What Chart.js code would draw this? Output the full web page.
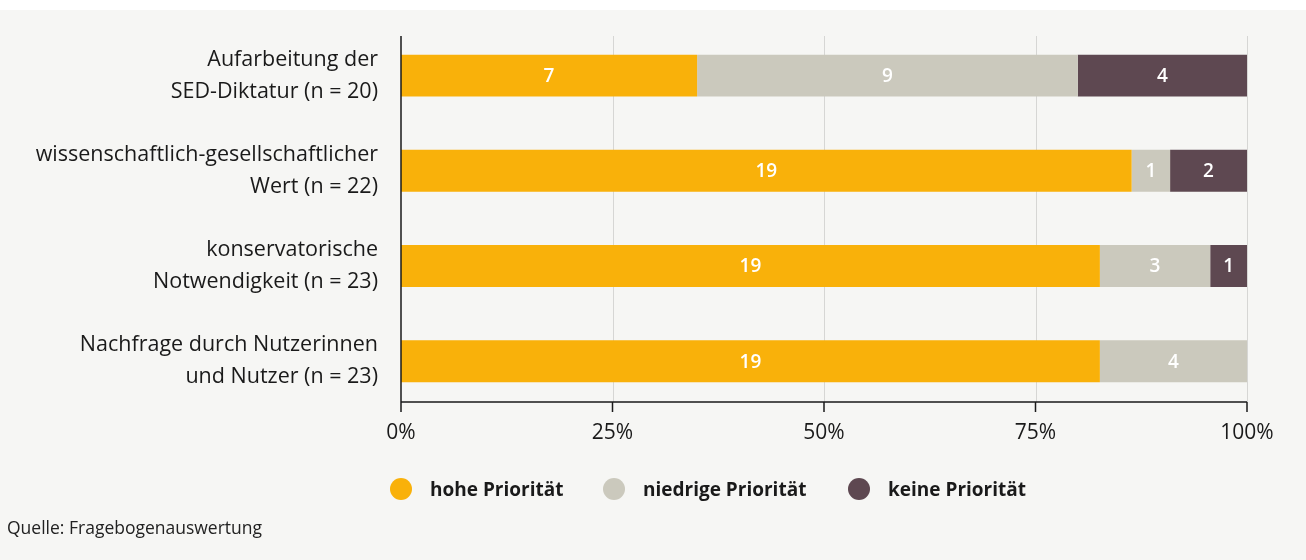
<!DOCTYPE html>
<html>
<head>
<meta charset="utf-8">
<script src="https://cdn.jsdelivr.net/npm/chart.js@4"></script>
<style>
  body { margin: 0; background: #ffffff; font-family: "Open Sans", sans-serif; }
  #wrap { position: absolute; left: 0; top: 10px; width: 1306px; height: 550px; background: #f6f6f4; }
  #chart { position: absolute; left: 0; top: 0; }
  .legendItem { position: absolute; top: 468px; height: 22px; display: flex; align-items: center;
    font-size: 19px; font-weight: 700; color: #1a1a1a; white-space: nowrap; }
  .legendItem span.dot { width: 22px; height: 22px; border-radius: 50%; margin-right: 18px; display: inline-block; }
  #source { position: absolute; left: 7px; top: 505px; font-size: 17.5px; color: #222; }
</style>
</head>
<body>
<div id="wrap">
  <canvas id="chart" width="1306" height="550"></canvas>
  <div id="source">Quelle: Fragebogenauswertung</div>
</div>
<script>
//categories (y axis)
var categories = [
  ["Aufarbeitung der", "SED-Diktatur (n = 20)"],
  ["wissenschaftlich-gesellschaftlicher", "Wert (n = 22)"],
  ["konservatorische", "Notwendigkeit (n = 23)"],
  ["Nachfrage durch Nutzerinnen", "und Nutzer (n = 23)"]
];

//counts per series
var seriesNames = ["hohe Priorität", "niedrige Priorität", "keine Priorität"];
var hohe = [7, 19, 19, 19];
var niedrige = [9, 1, 3, 4];
var keine = [4, 2, 1, 0];
var seriesColors = ["#f9b10a", "#cbc9bd", "#5e4851"];

//x tick labels
var xTicks = [0, 25, 50, 75, 100];

//legend item left edges (px)
var legendLeft = [390, 603, 848];

var counts = [hohe, niedrige, keine];
var totals = categories.map(function (c, i) { return hohe[i] + niedrige[i] + keine[i]; });

var datasets = [];
for (var s = 0; s < counts.length; s++) {
  datasets.push({
    label: seriesNames[s],
    data: counts[s].map(function (v, i) { return v / totals[i] * 100; }),
    counts: counts[s],
    backgroundColor: seriesColors[s],
    borderWidth: 0,
    barPercentage: 0.44,
    categoryPercentage: 1
  });
}

//legend in html
var wrap = document.getElementById("wrap");
seriesNames.forEach(function (name, i) {
  var item = document.createElement("div");
  item.className = "legendItem";
  item.style.left = legendLeft[i] + "px";
  var dot = document.createElement("span");
  dot.className = "dot";
  dot.style.background = seriesColors[i];
  item.appendChild(dot);
  item.appendChild(document.createTextNode(name));
  wrap.appendChild(item);
});

//axes, grid and ticks drawn by hand
var axisPlugin = {
  id: "axisPlugin",
  beforeDatasetsDraw: function (chart) {
    var ctx = chart.ctx;
    var x = chart.scales.x;
    var top = 26, axisY = 392;
    ctx.save();
    ctx.strokeStyle = "#d6d6d4";
    ctx.lineWidth = 1;
    xTicks.forEach(function (t) {
      if (t === 0) return;
      var px = Math.round(x.getPixelForValue(t)) + 0.5;
      ctx.beginPath();
      ctx.moveTo(px, top);
      ctx.lineTo(px, axisY);
      ctx.stroke();
    });
    ctx.restore();
  },
  afterDatasetsDraw: function (chart) {
    var ctx = chart.ctx;
    var x = chart.scales.x;
    var top = 26, axisY = 392;
    ctx.save();
    ctx.strokeStyle = "#1a1a1a";
    ctx.lineWidth = 1.5;
    var left = x.getPixelForValue(0);
    var right = x.getPixelForValue(100);
    ctx.beginPath();
    ctx.moveTo(left, top);
    ctx.lineTo(left, axisY);
    ctx.moveTo(left, axisY);
    ctx.lineTo(right, axisY);
    xTicks.forEach(function (t) {
      var px = x.getPixelForValue(t);
      ctx.moveTo(px, axisY);
      ctx.lineTo(px, axisY + 10);
    });
    ctx.stroke();

    //count labels
    ctx.fillStyle = "#ffffff";
    ctx.font = "600 19px 'Open Sans'";
    ctx.textAlign = "center";
    ctx.textBaseline = "middle";
    chart.data.datasets.forEach(function (ds, di) {
      var meta = chart.getDatasetMeta(di);
      meta.data.forEach(function (bar, i) {
        if (!ds.counts[i]) return;
        ctx.fillText(ds.counts[i], (bar.x + bar.base) / 2, bar.y + 1);
      });
    });
    ctx.restore();
  }
};

var ctx = document.getElementById("chart").getContext("2d");
var myChart = new Chart(ctx, {
  type: "bar",
  data: {
    labels: categories,
    datasets: datasets
  },
  plugins: [axisPlugin],
  options: {
    indexAxis: "y",
    responsive: false,
    animation: false,
    layout: { padding: { left: 0, right: 59, top: 18, bottom: 102 } },
    plugins: {
      legend: { display: false },
      tooltip: { enabled: false }
    },
    scales: {
      x: {
        stacked: true,
        min: 0,
        max: 100,
        grid: { display: false, drawTicks: false },
        border: { display: false },
        afterFit: function (scale) { scale.paddingLeft = 0; scale.paddingRight = 0; },
        ticks: {
          stepSize: 25,
          padding: 12,
          color: "#1a1a1a",
          font: { family: "Open Sans", size: 21, weight: 500 },
          callback: function (v) { return v + "%"; }
        }
      },
      y: {
        stacked: true,
        grid: { display: false, drawTicks: false },
        border: { display: false },
        afterFit: function (scale) {
          scale.width = 401;
          scale.paddingTop = 0;
          scale.paddingBottom = 0;
        },
        ticks: {
          padding: 23,
          color: "#1a1a1a",
          font: { family: "Open Sans", size: 21.5, weight: 500, lineHeight: 1.49 }
        }
      }
    }
  }
});
</script>
</body>
</html>
